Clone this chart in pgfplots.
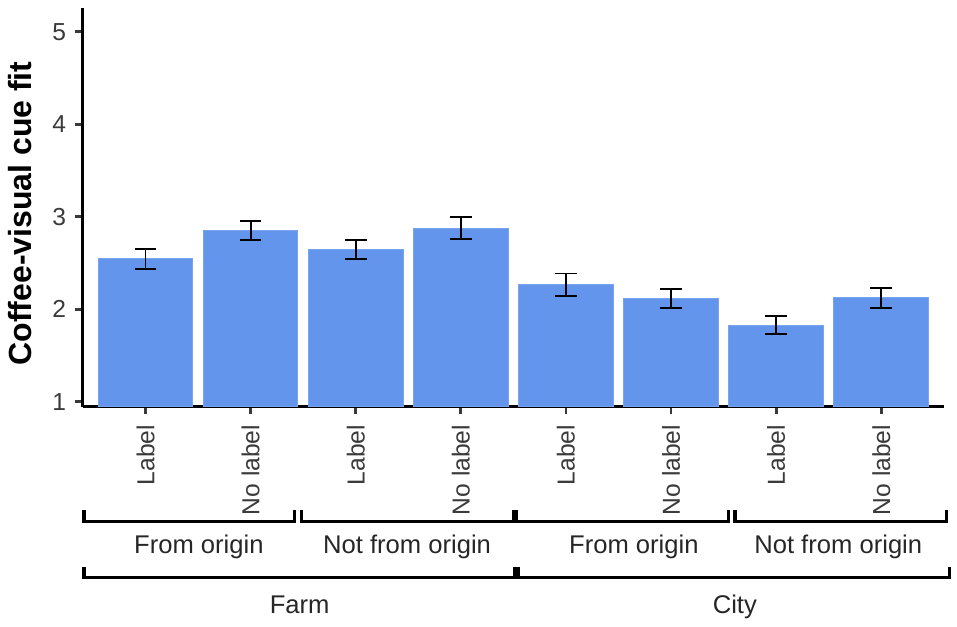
\documentclass[border=0pt]{standalone}
\usepackage{pgfplots}
\pgfplotsset{compat=1.18}
\usepackage{fontspec}
\setmainfont{Liberation Sans}
\definecolor{barfill}{HTML}{6495ED}
\definecolor{baredge}{HTML}{7BA4F0}
\definecolor{txtgray}{HTML}{3A3A3A}
\definecolor{grpgray}{HTML}{262626}
\begin{document}
\begin{tikzpicture}
\path[use as bounding box] (0,0) rectangle (478.5pt,313pt);
\begin{axis}[
 at={(41.25pt,109.75pt)}, anchor=south west,
 scale only axis, width=430.9pt, height=199.1pt,
 xmin=-0.6, xmax=7.6, ymin=0.948, ymax=5.253,
 axis lines=left, axis line style={-, line width=1.6pt, black},
 ybar, bar width=0.9,
 xtick={0,...,7},
 xticklabels={Label,No label,Label,No label,Label,No label,Label,No label},
 ytick={1,2,3,4,5},
 tick align=outside, major tick length=3.5pt,
 tick style={line width=1.4pt, color=txtgray},
 xticklabel style={rotate=90, anchor=east, inner sep=0pt, xshift=-5.5pt, font=\fontsize{12.3}{14}\selectfont, text=txtgray},
 yticklabel style={anchor=east, inner sep=0pt, xshift=-4.5pt, font=\fontsize{12.3}{14}\selectfont, text=txtgray},
 /pgf/number format/assume math mode=true,
 ylabel={Coffee-visual cue fit},
 ylabel style={at={(axis description cs:-0.0725,0.4847)}, anchor=center, font=\bfseries\fontsize{16}{19}\selectfont},
 clip mode=individual,
]
\addplot[fill=barfill, draw=baredge, line width=0.5pt,
 error bars/.cd, y dir=both, y explicit,
 error bar style={line width=0.9pt, black},
 error mark options={rotate=90, mark size=5.4pt, line width=0.9pt, black}]
 table[x=x, y=y, y error=e] {
 x y e
 0 2.543 0.107
 1 2.849 0.105
 2 2.645 0.099
 3 2.876 0.120
 4 2.265 0.121
 5 2.112 0.103
 6 1.829 0.100
 7 2.123 0.107
 };
% brackets, level 1
\draw[line width=1.7pt, black] (axis cs:-0.587,-0.171) -- (axis cs:-0.587,-0.297) -- (axis cs:1.415,-0.297) -- (axis cs:1.415,-0.171);
\draw[line width=1.7pt, black] (axis cs:1.485,-0.171) -- (axis cs:1.485,-0.297) -- (axis cs:3.500,-0.297) -- (axis cs:3.500,-0.171);
\draw[line width=1.7pt, black] (axis cs:3.532,-0.171) -- (axis cs:3.532,-0.297) -- (axis cs:5.544,-0.297) -- (axis cs:5.544,-0.171);
\draw[line width=1.7pt, black] (axis cs:5.607,-0.171) -- (axis cs:5.607,-0.297) -- (axis cs:7.622,-0.297) -- (axis cs:7.622,-0.171);
% brackets, level 2
\draw[line width=1.7pt, black] (axis cs:-0.587,-0.784) -- (axis cs:-0.587,-0.903) -- (axis cs:3.516,-0.903) -- (axis cs:3.516,-0.784);
\draw[line width=1.7pt, black] (axis cs:3.547,-0.784) -- (axis cs:3.547,-0.903) -- (axis cs:7.650,-0.903) -- (axis cs:7.650,-0.784);
% group labels
\node[anchor=base, inner sep=0pt, font=\fontsize{12.8}{15}\selectfont, text=grpgray] at (axis cs:0.507,-0.636) {From origin};
\node[anchor=base, inner sep=0pt, font=\fontsize{12.8}{15}\selectfont, text=grpgray] at (axis cs:2.488,-0.636) {Not from origin};
\node[anchor=base, inner sep=0pt, font=\fontsize{12.8}{15}\selectfont, text=grpgray] at (axis cs:4.646,-0.636) {From origin};
\node[anchor=base, inner sep=0pt, font=\fontsize{12.8}{15}\selectfont, text=grpgray] at (axis cs:6.591,-0.636) {Not from origin};
\node[anchor=base, inner sep=0pt, font=\fontsize{12.8}{15}\selectfont, text=grpgray] at (axis cs:1.466,-1.288) {Farm};
\node[anchor=base, inner sep=0pt, font=\fontsize{12.8}{15}\selectfont, text=grpgray] at (axis cs:5.607,-1.288) {City};
\end{axis}
\end{tikzpicture}
\end{document}
